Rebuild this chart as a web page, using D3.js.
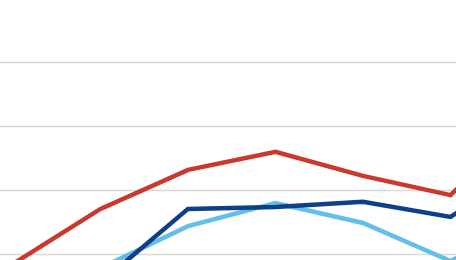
<!DOCTYPE html>
<html>
<head>
<meta charset="utf-8">
<script src="https://cdn.jsdelivr.net/npm/d3@7"></script>
<style>
  html, body { margin: 0; padding: 0; background: #fff; overflow: hidden; }
  svg { display: block; }
</style>
</head>
<body>
<div id="chart"></div>
<script>
// categories along x (only part of the chart is in view)
const categories = ["P1", "P2", "P3", "P4", "P5", "P6", "P7"];
const redValues = [16.9, 34.1, 46.3, 51.9, 44.4, 38.4, 65];
const darkBlueValues = [8, 11, 34.1, 34.7, 36.3, 31.6, 49];
const lightBlueValues = [10, 15.6, 28.7, 35.9, 29.7, 17.8, 32];
const gridValues = [20, 40, 60, 80];

const series = [
  {name: "red", values: redValues, color: "#c9392e"},
  {name: "lightblue", values: lightBlueValues, color: "#62bfe9"},
  {name: "darkblue", values: darkBlueValues, color: "#0e3f87"}
];

const width = 456, height = 260;

const svg = d3.select("#chart")
  .append("svg")
  .attr("width", width)
  .attr("height", height);

const x = d3.scalePoint()
  .domain(categories)
  .range([13, 538]);

const y = d3.scaleLinear()
  .domain([20, 80])
  .range([254, 62]);

// gridlines
svg.append("g")
  .attr("class", "grid")
  .call(d3.axisLeft(y).tickValues(gridValues).tickSize(-width).tickFormat(""))
  .call(g => g.select(".domain").remove())
  .call(g => g.selectAll("line")
    .attr("stroke", "#d9d9d9")
    .attr("stroke-width", 1.5));

const line = d3.line()
  .x((d, i) => x(categories[i]))
  .y(d => y(d));

svg.selectAll(".series")
  .data(series)
  .enter().append("path")
  .attr("class", "series")
  .attr("fill", "none")
  .attr("stroke", d => d.color)
  .attr("stroke-width", 4.5)
  .attr("stroke-linejoin", "miter")
  .attr("d", d => line(d.values));
</script>
</body>
</html>
